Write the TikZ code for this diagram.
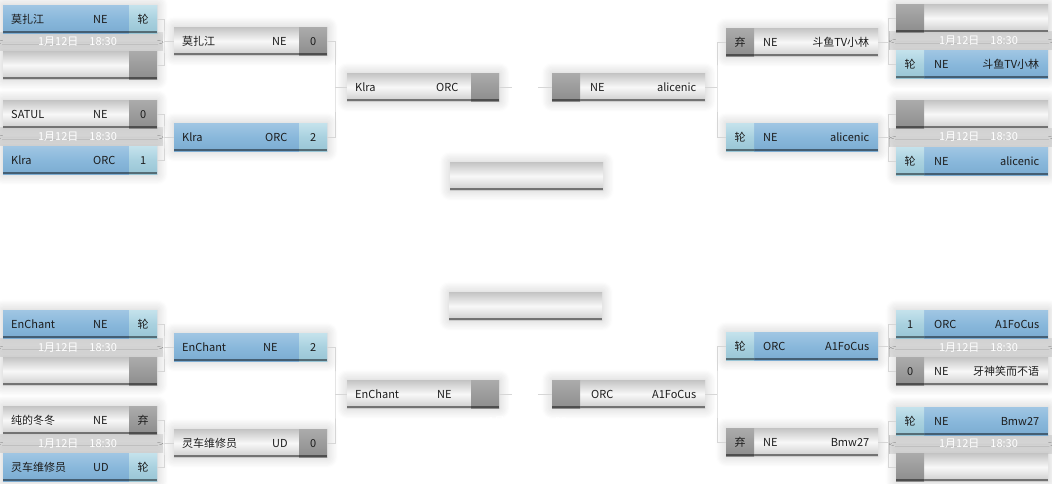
\documentclass[tikz,border=0pt]{standalone}
\usepackage{fontspec}
\setmainfont{Noto Sans CJK SC}
\usetikzlibrary{shadows.blur}
\definecolor{bt}{HTML}{A0C6E3}
\definecolor{bm}{HTML}{89B8DB}
\definecolor{bb}{HTML}{7BABD1}
\definecolor{st}{HTML}{C4E2EC}
\definecolor{sm}{HTML}{A9D1DF}
\definecolor{sb}{HTML}{98C5D5}
\definecolor{gt}{HTML}{C4C4C4}
\definecolor{gm}{HTML}{F8F8F8}
\definecolor{gb}{HTML}{CCCCCC}
\definecolor{kt}{HTML}{ABABAB}
\definecolor{km}{HTML}{9C9C9C}
\definecolor{kb}{HTML}{8C8C8C}
\definecolor{linec}{HTML}{D6D6D6}
\definecolor{txt}{HTML}{1C1C1C}
\definecolor{bandm}{HTML}{D8D8D8}
\definecolor{bande}{HTML}{E8E8E8}
\tikzset{
  bottomedge/.style={path picture={\fill[black,opacity=.45] ([yshift=2]path picture bounding box.south west) rectangle (path picture bounding box.south east);}},
  bar/.style={rectangle, inner sep=0, minimum height=28, anchor=north west, bottomedge,
    blur shadow={shadow xshift=0pt, shadow yshift=0pt, shadow blur radius=11pt, shadow opacity=22, shadow blur steps=10}},
  sc/.style={rectangle, inner sep=0, minimum height=28, minimum width=28, bottomedge, text=txt,
    font=\fontsize{11}{13}\selectfont, text height=8pt, text depth=0pt},
  blbar/.style={top color=bt, bottom color=bb, middle color=bm},
  grbar/.style={top color=gt, bottom color=gb, middle color=gm},
  blsc/.style={top color=st, bottom color=sb, middle color=sm},
  grsc/.style={top color=kt, bottom color=kb, middle color=km},
  lbl/.style={inner sep=0, text=txt, font=\fontsize{11}{13}\selectfont, text height=8pt, text depth=0pt},
  date/.style={inner sep=0, text=white, font=\fontsize{11}{13}\selectfont},
  band/.style={rectangle, inner sep=0, minimum width=163, minimum height=18, top color=bande, bottom color=bande, middle color=bandm},
  conn/.style={draw=linec, line width=1pt},
}
% left-type box: score on the right
\newcommand{\lbox}[9]{%
  \node[bar,#5bar,minimum width=#4] (#1) at (#2,#3) {};
  \node[sc,#5sc,anchor=north east] (#1s) at (#1.north east) {#9};
  \node[lbl,anchor=west] (#1n) at ([xshift=8]#1.west) {#6};
  \node[lbl,anchor=west] (#1r) at (#8,0 |- #1.west) {#7};
}
\newcommand{\lboxe}[5]{%
  \node[bar,#5bar,minimum width=#4] (#1) at (#2,#3) {};
  \node[sc,#5sc,anchor=north east] (#1s) at (#1.north east) {};
}
% right-type box: score on the left
\newcommand{\rbox}[9]{%
  \node[bar,#5bar,minimum width=#4] (#1) at (#2,#3) {};
  \node[sc,#5sc,anchor=north west] (#1s) at (#1.north west) {#9};
  \node[lbl,anchor=east] (#1n) at ([xshift=-9]#1.east) {#6};
  \node[lbl,anchor=west] (#1r) at (#8,0 |- #1.west) {#7};
}
\newcommand{\rboxe}[5]{%
  \node[bar,#5bar,minimum width=#4] (#1) at (#2,#3) {};
  \node[sc,#5sc,anchor=north west] (#1s) at (#1.north west) {};
}
\begin{document}
\begin{tikzpicture}[x=1pt,y=-1pt]
\useasboundingbox (0,0) rectangle (1052,484);
% ---------- bands behind the dates
\node[band] (b1) at (81.5,42) {};
\node[band] (b2) at (81.5,137) {};
\node[band] (b3) at (81.5,347.5) {};
\node[band] (b4) at (81.5,443.5) {};
\node[band] (b5) at (970.5,41) {};
\node[band] (b6) at (970.5,137.5) {};
\node[band] (b7) at (970.5,347.5) {};
\node[band] (b8) at (970.5,444) {};
% ---------- left, round 1
\lbox{L1}{3}{5}{154}{bl}{莫扎江}{NE}{93}{轮}
\lboxe{L2}{3}{51}{154}{gr}
\lbox{L3}{3}{100}{154}{gr}{SATUL}{NE}{93}{0}
\lbox{L4}{3}{146}{154}{bl}{Klra}{ORC}{93}{1}
\lbox{L5}{3}{310}{154}{bl}{EnChant}{NE}{93}{轮}
\lboxe{L6}{3}{357}{154}{gr}
\lbox{L7}{3}{406}{154}{gr}{纯的冬冬}{NE}{93}{弃}
\lbox{L8}{3}{453}{154}{bl}{灵车维修员}{UD}{93}{轮}
% ---------- left, round 2
\lbox{LA}{174}{27}{153}{gr}{莫扎江}{NE}{272}{0}
\lbox{LB}{174}{123}{153}{bl}{Klra}{ORC}{265}{2}
\lbox{LC}{174}{333}{153}{bl}{EnChant}{NE}{263}{2}
\lbox{LD}{174}{429}{153}{gr}{灵车维修员}{UD}{272}{0}
% ---------- semifinals
\lbox{SL}{347}{73}{152}{gr}{Klra}{ORC}{436}{}
\rbox{SR}{552}{73}{153}{gr}{alicenic}{NE}{590}{}
\lbox{SLb}{347}{380}{152}{gr}{EnChant}{NE}{437}{}
\rbox{SRb}{552}{380}{153}{gr}{A1FoCus}{ORC}{591}{}
% ---------- finals
\node[bar,grbar,minimum width=153] (F1) at (450,162) {};
\node[bar,grbar,minimum width=153] (F2) at (449,292) {};
% ---------- right, round 2
\rbox{RA}{726}{28}{152}{gr}{斗鱼TV小林}{NE}{763}{弃}
\rbox{RB}{726}{123}{152}{bl}{alicenic}{NE}{763}{轮}
\rbox{RC}{726}{332}{152}{bl}{A1FoCus}{ORC}{763}{轮}
\rbox{RD}{726}{428}{152}{gr}{Bmw27}{NE}{763}{弃}
% ---------- right, round 1
\rboxe{R1}{896}{4}{152}{gr}
\rbox{R2}{896}{50}{152}{bl}{斗鱼TV小林}{NE}{934}{轮}
\rboxe{R3}{896}{100}{152}{gr}
\rbox{R4}{896}{147}{152}{bl}{alicenic}{NE}{934}{轮}
\rbox{R5}{896}{310}{152}{bl}{A1FoCus}{ORC}{934}{1}
\rbox{R6}{896}{357}{152}{gr}{牙神笑而不语}{NE}{934}{0}
\rbox{R7}{896}{407}{152}{bl}{Bmw27}{NE}{934}{轮}
\rboxe{R8}{896}{453}{152}{gr}
% ---------- dates
\node[date] (d1) at (77.5,42) {1月12日\hspace{11pt}18:30};
\node[date] (d2) at (77.5,137) {1月12日\hspace{11pt}18:30};
\node[date] (d3) at (77.5,348) {1月12日\hspace{11pt}18:30};
\node[date] (d4) at (77.5,444) {1月12日\hspace{11pt}18:30};
\node[date] (d5) at (978.5,41) {1月12日\hspace{11pt}18:30};
\node[date] (d6) at (978.5,137) {1月12日\hspace{11pt}18:30};
\node[date] (d7) at (978.5,348) {1月12日\hspace{11pt}18:30};
\node[date] (d8) at (978.5,444) {1月12日\hspace{11pt}18:30};
\node[date] (d9) at (527.5,422) {1月12日\hspace{11pt}01:00};
% ---------- connectors, left
\coordinate (j1) at (164,0 |- LA.west);
\draw[conn] (L1.east) -| (j1) |- (L2.east);
\draw[conn] (j1) -- (LA.west);
\coordinate (j2) at (164,0 |- LB.west);
\draw[conn] (L3.east) -| (j2) |- (L4.east);
\draw[conn] (j2) -- (LB.west);
\coordinate (j3) at (164,0 |- LC.west);
\draw[conn] (L5.east) -| (j3) |- (L6.east);
\draw[conn] (j3) -- (LC.west);
\coordinate (j4) at (164,0 |- LD.west);
\draw[conn] (L7.east) -| (j4) |- (L8.east);
\draw[conn] (j4) -- (LD.west);
\coordinate (j5) at (335,0 |- SL.west);
\draw[conn] (LA.east) -| (j5) |- (LB.east);
\draw[conn] (j5) -- (SL.west);
\coordinate (j6) at (335,0 |- SLb.west);
\draw[conn] (LC.east) -| (j6) |- (LD.east);
\draw[conn] (j6) -- (SLb.west);
% ---------- connectors, right
\coordinate (k1) at (888,0 |- RA.east);
\draw[conn] (R1.west) -| (k1) |- (R2.west);
\draw[conn] (k1) -- (RA.east);
\coordinate (k2) at (888,0 |- RB.east);
\draw[conn] (R3.west) -| (k2) |- (R4.west);
\draw[conn] (k2) -- (RB.east);
\coordinate (k3) at (888,0 |- RC.east);
\draw[conn] (R5.west) -| (k3) |- (R6.west);
\draw[conn] (k3) -- (RC.east);
\coordinate (k4) at (888,0 |- RD.east);
\draw[conn] (R7.west) -| (k4) |- (R8.west);
\draw[conn] (k4) -- (RD.east);
\coordinate (k5) at (717,0 |- SR.east);
\draw[conn] (RA.west) -| (k5) |- (RB.west);
\draw[conn] (k5) -- (SR.east);
\coordinate (k6) at (717,0 |- SRb.east);
\draw[conn] (RC.west) -| (k6) |- (RD.west);
\draw[conn] (k6) -- (SRb.east);
% ---------- stubs towards the finals
\coordinate (s1) at (512,0 |- SL.east);
\draw[conn] (SL.east) -- (s1);
\coordinate (s2) at (538,0 |- SR.west);
\draw[conn] (SR.west) -- (s2);
\coordinate (s3) at (512,0 |- SLb.east);
\draw[conn] (SLb.east) -- (s3);
\coordinate (s4) at (538,0 |- SRb.west);
\draw[conn] (SRb.west) -- (s4);
\end{tikzpicture}
\end{document}
